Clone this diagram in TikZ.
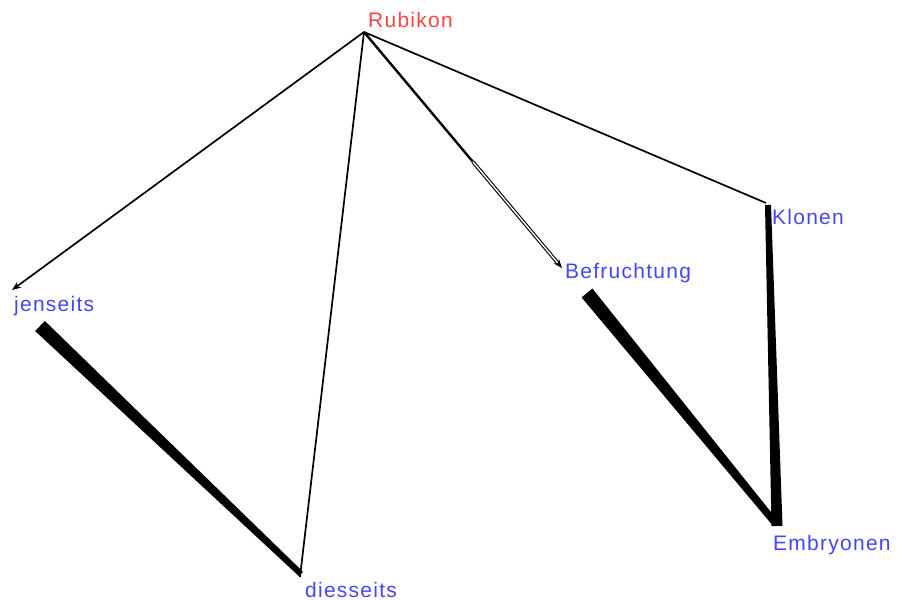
\documentclass[tikz,border=0pt]{standalone}
\usepackage{fontspec}
\setmainfont{Liberation Sans}
\newfontfamily\lblfont[LetterSpace=6]{Liberation Sans}
\usetikzlibrary{calc,arrows.meta}
\definecolor{lblblue}{RGB}{70,70,240}
\definecolor{lblred}{RGB}{245,70,70}
\tikzset{
  lbl/.style={anchor=west,inner sep=0pt,font=\lblfont\fontsize{21}{24}\selectfont,text=lblblue},
  redlbl/.style={lbl,text=lblred},
  thinedge/.style={draw=black,line width=1.7pt},
  arr/.style={-{Stealth[length=9pt,width=7pt]}},
}
\newcommand{\wedgeedge}[4]{%
  \fill[black] ($(#1)!#3!90:(#2)$) -- ($(#2)!#4!-90:(#1)$) -- ($(#2)!#4!90:(#1)$) -- ($(#1)!#3!-90:(#2)$) -- cycle;}
\begin{document}
\begin{tikzpicture}[x=1pt,y=-1pt]
\useasboundingbox (0,0) rectangle (897,601);
% anchor points
\coordinate (pR) at (364,32);
\coordinate (pJ) at (12,290);
\coordinate (pD) at (300,577);
\coordinate (pB) at (562,268);
\coordinate (pK) at (766,203);
\coordinate (pE) at (775,528);
% wedge ends
\coordinate (wJ) at (40,326);
\coordinate (wD) at (301,574);
\coordinate (wB) at (587,293);
\coordinate (wE) at (776,524);
\coordinate (wK) at (768,205);
\coordinate (wE2) at (777,526);
% labels
\node[redlbl] (R) at (368,20) {Rubikon};
\node[lbl] (J) at (14,306) {jenseits};
\node[lbl] (D) at (305,590) {diesseits};
\node[lbl] (B) at (565,273) {Befruchtung};
\node[lbl] (K) at (772,217) {Klonen};
\node[lbl] (E) at (773,545) {Embryonen};
% thin connectors
\draw[thinedge,arr] (pR) -- (pJ);
\draw[thinedge] (pR) -- (pD);
\draw[thinedge] (pR) -- (pK);
\draw[line width=2.4pt] (pR) -- ($(pR)!0.55!(pB)$);
\draw[line width=1.1pt,double=white,double distance=1.4pt,arr] ($(pR)!0.55!(pB)$) -- (pB);
% thick connectors
\wedgeedge{wJ}{wD}{7pt}{3pt}
\wedgeedge{wB}{wE}{7pt}{3.5pt}
\wedgeedge{wK}{wE2}{3pt}{5.5pt}
\end{tikzpicture}
\end{document}
